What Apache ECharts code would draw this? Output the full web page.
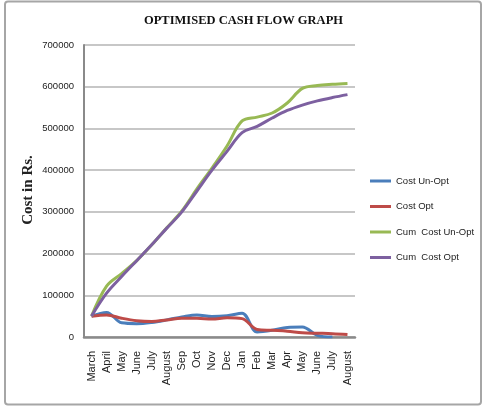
<!DOCTYPE html>
<html>
<head>
<meta charset="utf-8">
<script src="https://cdn.jsdelivr.net/npm/echarts@6/dist/echarts.min.js"></script>
<style>
html,body{margin:0;padding:0;background:#fff;}
#c{width:487px;height:410px;}
</style>
</head>
<body>
<div id="c"></div>
<script>
const categories = ['March','April','May','June','July','August','Sep','Oct','Nov','Dec','Jan','Feb','Mar','Apr','May','June','July','August'];
const costUnOpt = [50000, 59000, 34000, 32000, 35000, 41000, 48000, 53000, 49000, 51000, 57000, 12000, 16000, 23000, 24000, 4000, 0, null];
const costOpt = [50000, 53000, 45000, 39000, 37000, 41000, 45000, 45000, 43000, 46000, 44000, 18000, 16000, 14000, 10000, 9000, 8000, 6000];
const cumCostUnOpt = [50000, 122000, 152000, 183000, 221000, 262000, 302000, 355000, 405000, 458000, 518000, 527000, 537000, 561000, 596000, 603000, 606000, 608000];
const cumCostOpt = [50000, 105000, 145000, 183000, 221000, 261000, 300000, 350000, 400000, 445000, 490000, 505000, 525000, 543000, 556000, 566000, 574000, 581000];
const yTicks = [0, 100000, 200000, 300000, 400000, 500000, 600000, 700000];

const chart = echarts.init(document.getElementById('c'));
const mk = (name, data, color) => ({
  name, type: 'line', data, smooth: 0.35, showSymbol: false, symbol: 'none',
  lineStyle: { color, width: 3 }, itemStyle: { color }, connectNulls: false
});
chart.setOption({
  animation: false,
  graphic: [
    { type: 'rect', shape: { x: 5, y: 1.5, width: 476, height: 403, r: 3 },
      style: { fill: 'none', stroke: '#a6a6a6', lineWidth: 2 }, silent: true },
    { type: 'text', left: 'center', top: 14,
      style: { text: 'OPTIMISED CASH FLOW GRAPH', font: 'bold 12.5px "Liberation Serif"', fill: '#111' } },
    { type: 'text', x: 21, y: 190, rotation: Math.PI / 2,
      style: { text: 'Cost in Rs.', font: 'bold 15px "Liberation Serif"', fill: '#222', align: 'center', verticalAlign: 'top' } }
  ],
  grid: { left: 84, right: 132, top: 45, bottom: 73 },
  legend: {
    orient: 'vertical', left: 365, top: 171, itemWidth: 21, itemHeight: 3, itemGap: 15.5,
    icon: 'rect',
    textStyle: { fontFamily: 'Liberation Sans', fontSize: 9.5, color: '#222' },
    data: ['Cost Un-Opt', 'Cost Opt', 'Cum  Cost Un-Opt', 'Cum  Cost Opt']
  },
  xAxis: {
    type: 'category', data: categories, boundaryGap: true,
    axisLine: { lineStyle: { color: '#8a8a8a', width: 2.5 } },
    axisTick: { show: false },
    axisLabel: { rotate: 90, interval: 0, margin: 14, fontFamily: 'Liberation Sans', fontSize: 11, color: '#222' }
  },
  yAxis: {
    type: 'value', min: 0, max: 700000, interval: 100000,
    axisLine: { show: true, lineStyle: { color: '#8a8a8a', width: 2 } },
    axisTick: { show: false },
    axisLabel: { margin: 10, fontFamily: 'Liberation Sans', fontSize: 9.5, color: '#222',
      formatter: v => yTicks.includes(v) ? String(v) : '' },
    splitLine: { lineStyle: { color: '#b4b4b4', width: 1.5 } }
  },
  series: [
    mk('Cost Un-Opt', costUnOpt, '#4A7EBB'),
    mk('Cost Opt', costOpt, '#BE4B48'),
    mk('Cum  Cost Un-Opt', cumCostUnOpt, '#98B954'),
    mk('Cum  Cost Opt', cumCostOpt, '#7D60A0')
  ]
});
</script>
</body>
</html>
